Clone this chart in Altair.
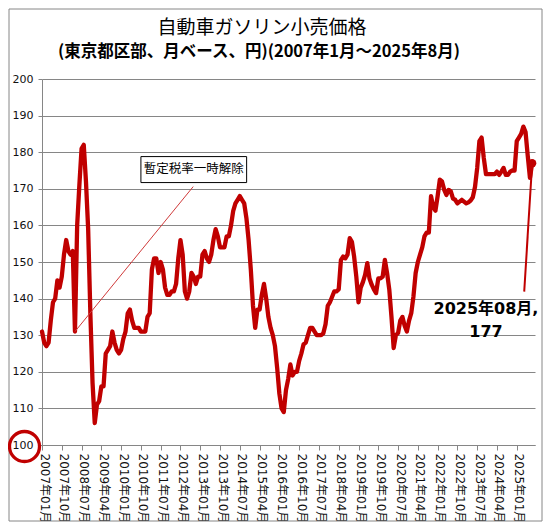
import altair as alt
import pandas as pd

# ---- data ----
months = [f"{2007 + k // 12}-{k % 12 + 1:02d}" for k in range(224)]
prices = [
    131, 128, 127, 128, 134, 139, 140, 145, 143, 146, 152, 156,   # 2007
    153, 152, 153, 131, 160, 171, 181, 182, 172, 159, 136, 117,   # 2008
    106, 111, 112, 116, 116, 125, 126, 127, 131, 128, 126, 125,   # 2009
    126, 129, 131, 136, 137, 134, 132, 132, 132, 131, 131, 131,   # 2010
    135, 136, 148, 151, 151, 147, 150, 148, 143, 141, 141, 142,   # 2011
    142, 144, 151, 156, 152, 142, 140, 142, 147, 146, 144, 146,   # 2012
    146, 152, 153, 151, 150, 152, 156, 159, 157, 154, 154, 154,   # 2013
    157, 157, 160, 164, 166, 167, 168, 167, 166, 162, 156, 148,   # 2014
    138, 132, 137, 137, 141, 144, 140, 135, 132, 130, 127, 121,   # 2015
    114, 110, 109, 115, 118, 122, 119, 120, 120, 123, 125, 127.5, # 2016
    128, 130, 132, 132, 131, 130, 130, 130, 130.5, 133, 138, 139, # 2017
    140.5, 142, 142, 142.5, 150.5, 151.5, 151, 152, 156.5, 155.5, 151.5, 146,  # 2018
    139, 143, 144.5, 146.5, 149.7, 145.5, 143.8, 142.5, 141.5, 145.5, 145.5, 146,  # 2019
    150.6, 147, 142.5, 135, 126.5, 130, 130.6, 134, 135, 132.6, 131, 134,  # 2020
    136, 140.6, 147, 150, 152, 154, 157, 158, 158, 168, 165, 164,  # 2021
    168, 172.5, 172, 169.7, 168.3, 169.7, 169.3, 167.3, 167, 166, 166.5, 167,  # 2022
    166.5, 166, 166.3, 166.8, 167.7, 170.5, 175.7, 183, 184, 178.4, 174, 174,  # 2023
    174, 174, 174, 174.7, 173.8, 174.7, 175.7, 173.8, 173.8, 174.7, 175, 175,  # 2024
    183, 184, 185, 187, 185.5, 179, 173, 177,                    # 2025
]
tick_idx = list(range(0, 217, 9))
tick_labels = [f"{2007 + k // 12}年{k % 12 + 1:02d}月" for k in tick_idx]
y_ticks = list(range(100, 201, 10))

title_line1 = "自動車ガソリン小売価格"
title_line2 = "(東京都区部、月ベース、円)(2007年1月～2025年8月)"
note1_text = "暫定税率一時解除"
note2_lines = ["2025年08月,", "177"]

df = pd.DataFrame({"idx": list(range(len(prices))), "month": months[:len(prices)], "price": prices})
last = df.tail(1)

# annotation geometry (data coordinates)
box_df = pd.DataFrame({"x1": [45.0], "x2": [93.1], "y1": [171.7], "y2": [178.8],
                       "tx": [69.0], "ty": [175.3], "t": [note1_text]})
lead1_df = pd.DataFrame({"idx": [15, 68.8], "price": [prices[15], 170.6]})
lead2_df = pd.DataFrame({"idx": [219.4, 223], "price": [141.9, prices[-1]]})
note2_df = pd.DataFrame({"tx": [202, 202], "ty": [137.2, 130.9], "t": note2_lines})
one = pd.DataFrame({"a": [0]})

RED = "#C00000"
GRID = "#868686"
CJK = "Noto Sans CJK JP"

label_expr = "[" + ",".join(f"'{s}'" for s in tick_labels) + "][round(datum.value / 9)]"

xs = alt.Scale(domain=[0, 224.3], nice=False, zero=False)
ys = alt.Scale(domain=[100, 200], nice=False, zero=False)

x_axis = alt.Axis(values=tick_idx, labelExpr=label_expr, labelAngle=90, title=None,
                  grid=False, domainColor=GRID, tickColor=GRID, tickSize=5,
                  labelFont="DejaVu Sans, " + CJK, labelFontSize=12, labelColor="#111111",
                  labelPadding=3, labelOffset=2, labelOverlap=False, labelBound=False,
                  labelFlush=False)
y_axis = alt.Axis(values=y_ticks, title=None, grid=True, gridColor=GRID, gridWidth=1,
                  domainColor=GRID, tickColor=GRID, tickSize=4, labelFont="DejaVu Sans",
                  labelFontSize=11, labelColor="#111111", labelPadding=5,
                  labelOverlap=False)


def X(field):
    return alt.X(field, scale=xs, axis=x_axis)


def Y(field):
    return alt.Y(field, scale=ys, axis=y_axis)


line = alt.Chart(df).mark_line(color=RED, strokeWidth=4.3, strokeJoin="round", strokeCap="round").encode(
    x=X("idx:Q"), y=Y("price:Q"))

dot = alt.Chart(last).mark_circle(color=RED, size=70, opacity=1).encode(
    x=X("idx:Q"), y=Y("price:Q"))

lead1 = alt.Chart(lead1_df).mark_line(color="#D03a3a", strokeWidth=1).encode(
    x=X("idx:Q"), y=Y("price:Q"))
lead2 = alt.Chart(lead2_df).mark_line(color=RED, strokeWidth=2).encode(
    x=X("idx:Q"), y=Y("price:Q"))

box = alt.Chart(box_df).mark_rect(fill="white", stroke="black", strokeWidth=1).encode(
    x=X("x1:Q"), x2="x2:Q", y=Y("y1:Q"), y2="y2:Q")
box_text = alt.Chart(box_df).mark_text(font=CJK, fontSize=12.5, color="black").encode(
    x=X("tx:Q"), y=Y("ty:Q"), text="t:N")

note2 = alt.Chart(note2_df).mark_text(font="DejaVu Sans, " + CJK, fontSize=16, fontWeight="bold",
                                      color="black").encode(
    x=X("tx:Q"), y=Y("ty:Q"), text="t:N")

ring = alt.Chart(one).mark_point(shape="circle", filled=False, color=RED, size=900,
                                 strokeWidth=3.3, opacity=1).encode(
    x=alt.value(-17.5), y=alt.value(367.5))

t1 = alt.Chart(one).mark_text(font=CJK, fontSize=19, color="black", baseline="middle").encode(
    x=alt.value(220), y=alt.value(-51), text=alt.value(title_line1))
t2 = alt.Chart(one).mark_text(font=CJK, fontSize=16.5, fontWeight="bold", color="black",
                              baseline="middle").encode(
    x=alt.value(217), y=alt.value(-27), text=alt.value(title_line2))

frame = alt.Chart(one).mark_rect(fillOpacity=0, stroke=GRID, strokeWidth=1).encode(
    x=alt.value(-33), x2=alt.value(500), y=alt.value(-70), y2=alt.value(442))

chart = alt.layer(line, frame, lead1, lead2, dot, box, box_text, note2, ring, t1, t2).properties(
    width=493, height=366,
    autosize=alt.AutoSizeParams(type="none"),
    padding={"left": 34, "top": 71, "right": 8, "bottom": 77},
    background="white",
).configure_view(stroke=None)

chart.save("out.html", embed_options={"renderer": "svg", "actions": False})
